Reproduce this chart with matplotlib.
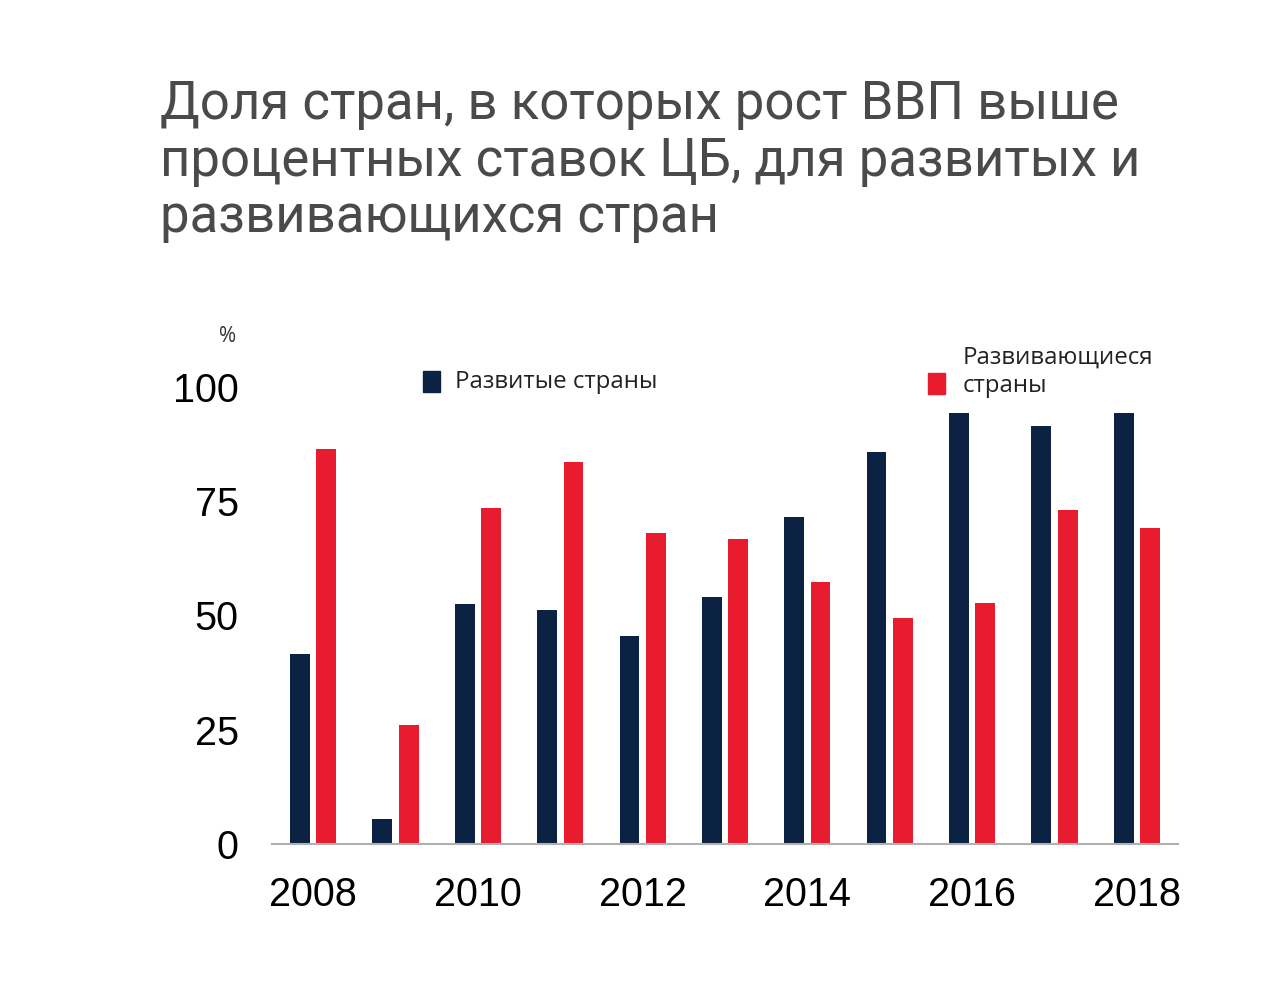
import matplotlib
matplotlib.use('Agg')
import matplotlib.pyplot as plt
import numpy as np

years = ['2008', '2009', '2010', '2011', '2012', '2013', '2014', '2015', '2016', '2017', '2018']
developed = [41.5, 5.5, 52.6, 51.3, 45.6, 54.0, 71.5, 85.7, 94.3, 91.4, 94.3]
emerging = [86.4, 26.1, 73.5, 83.6, 68.0, 66.8, 57.4, 49.4, 52.8, 73.1, 69.2]
tick_labels = ['2008', '', '2010', '', '2012', '', '2014', '', '2016', '', '2018']
y_ticks = [0, 25, 50, 75, 100]

navy = '#0b2243'
red = '#e81c2e'

fig = plt.figure(figsize=(12.7, 10), dpi=100)
ax = fig.add_axes([272 / 1270, 0.156, (1178 - 272) / 1270, 0.613 - 0.156])

x = np.arange(len(years))
w = 0.24
ax.bar(x - 0.16, developed, w, color=navy, label='Развитые страны')
ax.bar(x + 0.16, emerging, w, color=red, label='Развивающиеся\nстраны')

ax.set_xlim(-0.5, 10.5)
ax.set_ylim(0, 100)
ax.set_xticks(x)
ax.set_xticklabels(tick_labels, fontsize=28.5, family='Liberation Sans')
ax.set_yticks(y_ticks)
ax.set_yticklabels([str(v) for v in y_ticks], fontsize=28.5, family='Liberation Sans')
ax.tick_params(length=0)
ax.tick_params(axis='x', pad=23)
ax.tick_params(axis='y', pad=24)
for s in ['top', 'right', 'left']:
    ax.spines[s].set_visible(False)
ax.spines['bottom'].set_color('#b0b0b0')
ax.spines['bottom'].set_linewidth(1.5)

fig.text(228 / 1270, 1 - 337 / 1000, '%', fontsize=15, ha='center', va='center',
         family='Open Sans', color='#333333')

# legend markers and labels
fig.patches.append(plt.Rectangle((423 / 1270, 1 - 392 / 1000), 17 / 1270, 21 / 1000,
                                 color=navy, transform=fig.transFigure))
fig.text(455 / 1270, 1 - 382 / 1000, 'Развитые страны', fontsize=17.3, va='center',
         family='Open Sans', color='#222222')
fig.patches.append(plt.Rectangle((928 / 1270, 1 - 394 / 1000), 17 / 1270, 21 / 1000,
                                 color=red, transform=fig.transFigure))
fig.text(963 / 1270, 1 - 372 / 1000, 'Развивающиеся\nстраны', fontsize=17.3, va='center',
         family='Open Sans', color='#222222', linespacing=1.25)

fig.text(160 / 1270, 1 - 79 / 1000,
         'Доля стран, в которых рост ВВП выше\nпроцентных ставок ЦБ, для развитых и\nразвивающихся стран',
         fontsize=38, family='Roboto', color='#4a4a4a', va='top', ha='left', linespacing=1.14)

fig.savefig('out.png', dpi=100, facecolor='white')
